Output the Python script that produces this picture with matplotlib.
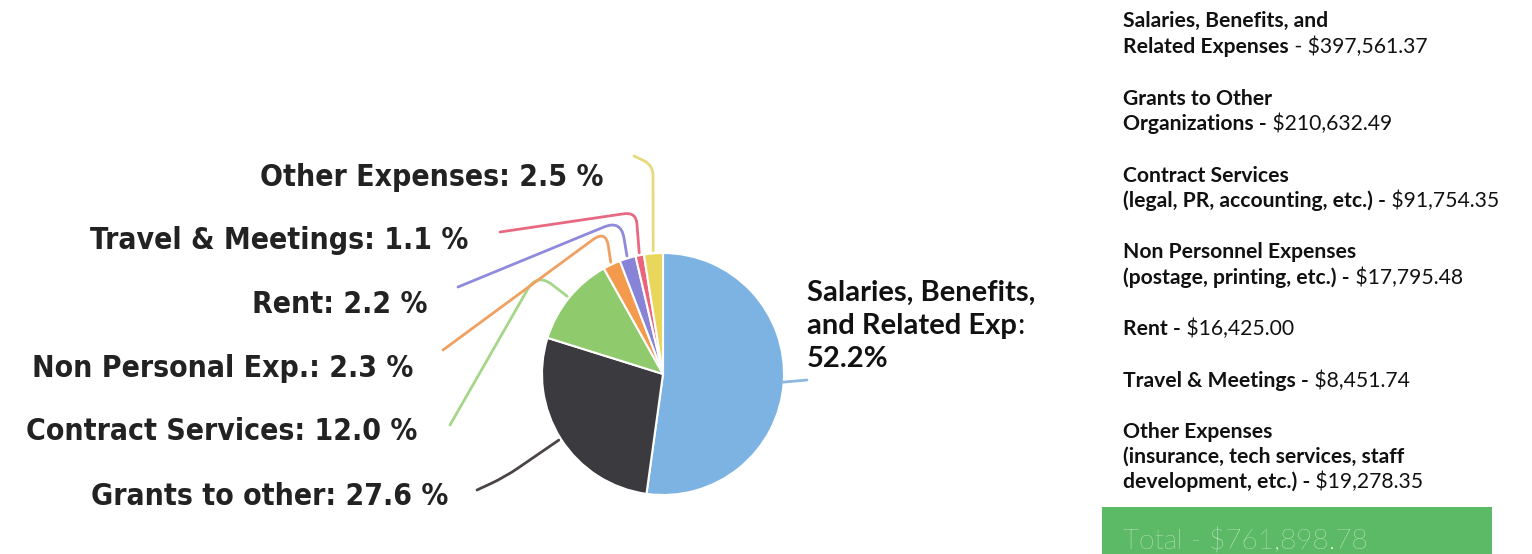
import matplotlib
matplotlib.use("Agg")
import matplotlib.pyplot as plt
import numpy as np
from matplotlib.path import Path
from matplotlib.patches import PathPatch, Rectangle

# ---------------- data ----------------
categories = ["Salaries, Benefits, and Related Expenses", "Grants to Other Organizations",
              "Contract Services", "Non Personnel Expenses", "Rent", "Travel & Meetings",
              "Other Expenses"]
amounts = [397561.37, 210632.49, 91754.35, 17795.48, 16425.00, 8451.74, 19278.35]
pie_labels = ["Salaries, Benefits, and Related Exp", "Grants to other", "Contract Services",
              "Non Personal Exp.", "Rent", "Travel & Meetings", "Other Expenses"]
colors = ["#7DB3E2", "#3B3A3F", "#8FCB6C", "#F39A4C", "#8784D8", "#E9647C", "#E8D75C"]
line_colors = ["#8DB9E0", "#4A4446", "#A6D68A", "#F0A060", "#8F8ADB", "#E86A82", "#E6DB7A"]
list_titles = [["Salaries, Benefits, and", "Related Expenses"],
               ["Grants to Other", "Organizations -"],
               ["Contract Services", "(legal, PR, accounting, etc.) -"],
               ["Non Personnel Expenses", "(postage, printing, etc.) -"],
               ["Rent -"],
               ["Travel & Meetings -"],
               ["Other Expenses", "(insurance, tech services, staff", "development, etc.) -"]]
total_label = "Total"

total = sum(amounts)
pcts = [100 * a / total for a in amounts]

# ---------------- figure ----------------
W, H = 1532, 554
fig = plt.figure(figsize=(W / 100, H / 100), dpi=100)
ax = fig.add_axes([0, 0, 1, 1])
ax.set_xlim(0, W)
ax.set_ylim(0, H)
ax.axis("off")


def Y(y):
    return H - y


cx, cy, r = 663, 374, 121
wedges, _ = ax.pie(amounts, colors=colors, startangle=90, counterclock=False,
                   center=(cx, Y(cy)), radius=r,
                   wedgeprops=dict(edgecolor="white", linewidth=1.5))
ax.set_xlim(0, W)
ax.set_ylim(0, H)
ax.set_aspect("equal")


def edge_point(w, k=1.02):
    ang = np.deg2rad((w.theta1 + w.theta2) / 2)
    return (cx + k * r * np.cos(ang), cy - k * r * np.sin(ang))


def rounded_path(pts, rad=22):
    pts = [np.array(p, float) for p in pts]
    verts = [pts[0]]
    codes = [Path.MOVETO]
    for i in range(1, len(pts) - 1):
        A, P, B = pts[i - 1], pts[i], pts[i + 1]
        la, lb = np.linalg.norm(P - A), np.linalg.norm(B - P)
        rr = min(rad, la * 0.5, lb * 0.5)
        p1 = P - rr * (P - A) / la
        p2 = P + rr * (B - P) / lb
        verts += [p1, P, p2]
        codes += [Path.LINETO, Path.CURVE3, Path.CURVE3]
    verts.append(pts[-1])
    codes.append(Path.LINETO)
    verts = [(v[0], Y(v[1])) for v in verts]
    return Path(verts, codes)


# leader waypoints (screen px) after the wedge point
leader_pts = [
    [(807, 380)],
    [(505, 477), (477, 490)],
    [(537, 273), (450, 425)],
    [(606, 230), (443, 350)],
    [(621, 220), (458, 287)],
    [(636, 212), (500, 232)],
    [(653, 165), (634, 156)],
]
leader_rad = [0, 30, 30, 45, 40, 12, 12]
for i, w in enumerate(wedges):
    start = edge_point(w, 0.99 if i == 0 else 1.02)
    pts = [start] + leader_pts[i]
    ax.add_patch(PathPatch(rounded_path(pts, leader_rad[i] if leader_rad[i] else 1),
                           fill=False, edgecolor=line_colors[i], lw=2.0,
                           capstyle="round", joinstyle="round"))

# left labels (right-aligned)
left_pos = [None, (448, 505), (417, 440), (413, 377), (427, 313), (468, 249), (603, 186)]
for i in range(1, len(amounts)):
    x, yb = left_pos[i]
    ax.text(x, Y(yb), f"{pie_labels[i]}: {pcts[i]:.1f} %", ha="right", va="baseline",
            fontsize=21.6, fontweight="bold", family="DejaVu Sans", fontstretch="condensed",
            color="#222222")

# salaries label
sal_lines = ["Salaries, Benefits,", "and Related Exp", f"{pcts[0]:.1f}%"]
sal_base = [301, 334, 367]
sfs = 21
for j, s in enumerate(sal_lines):
    t = ax.text(807, Y(sal_base[j]), s, ha="left", va="baseline", fontsize=sfs,
                fontweight="bold", family="Lato", color="#111111")
    if j == 1:
        ax.annotate(":", xy=(1, 0), xycoords=t, va="bottom", ha="left",
                    fontsize=sfs, family="Lato", color="#111111")

# right list
list_x = 1123
baselines = [[27, 53], [105, 130], [182, 207], [258, 284], [335], [387], [438, 463, 488]]
fs = 15.2
for i, lines in enumerate(list_titles):
    for j, s in enumerate(lines):
        t = ax.text(list_x, Y(baselines[i][j]), s, ha="left", va="baseline", fontsize=fs,
                    fontweight="bold", family="Lato", color="#111111")
    sep = " - " if i == 0 else " "
    ax.annotate(f"{sep}${amounts[i]:,.2f}", xy=(1, 0), xycoords=t, va="bottom", ha="left",
                fontsize=fs, family="Lato", color="#111111")

# total box
ax.add_patch(Rectangle((1102, Y(554)), 390, 554 - 507, facecolor="#5CBA66",
                       edgecolor="none"))
ax.text(list_x, Y(549), f"{total_label} - ${total:,.2f}", ha="left", va="baseline",
        fontsize=20.2, fontweight="light", family="Lato", color="white")

fig.savefig("out.png", dpi=100)
